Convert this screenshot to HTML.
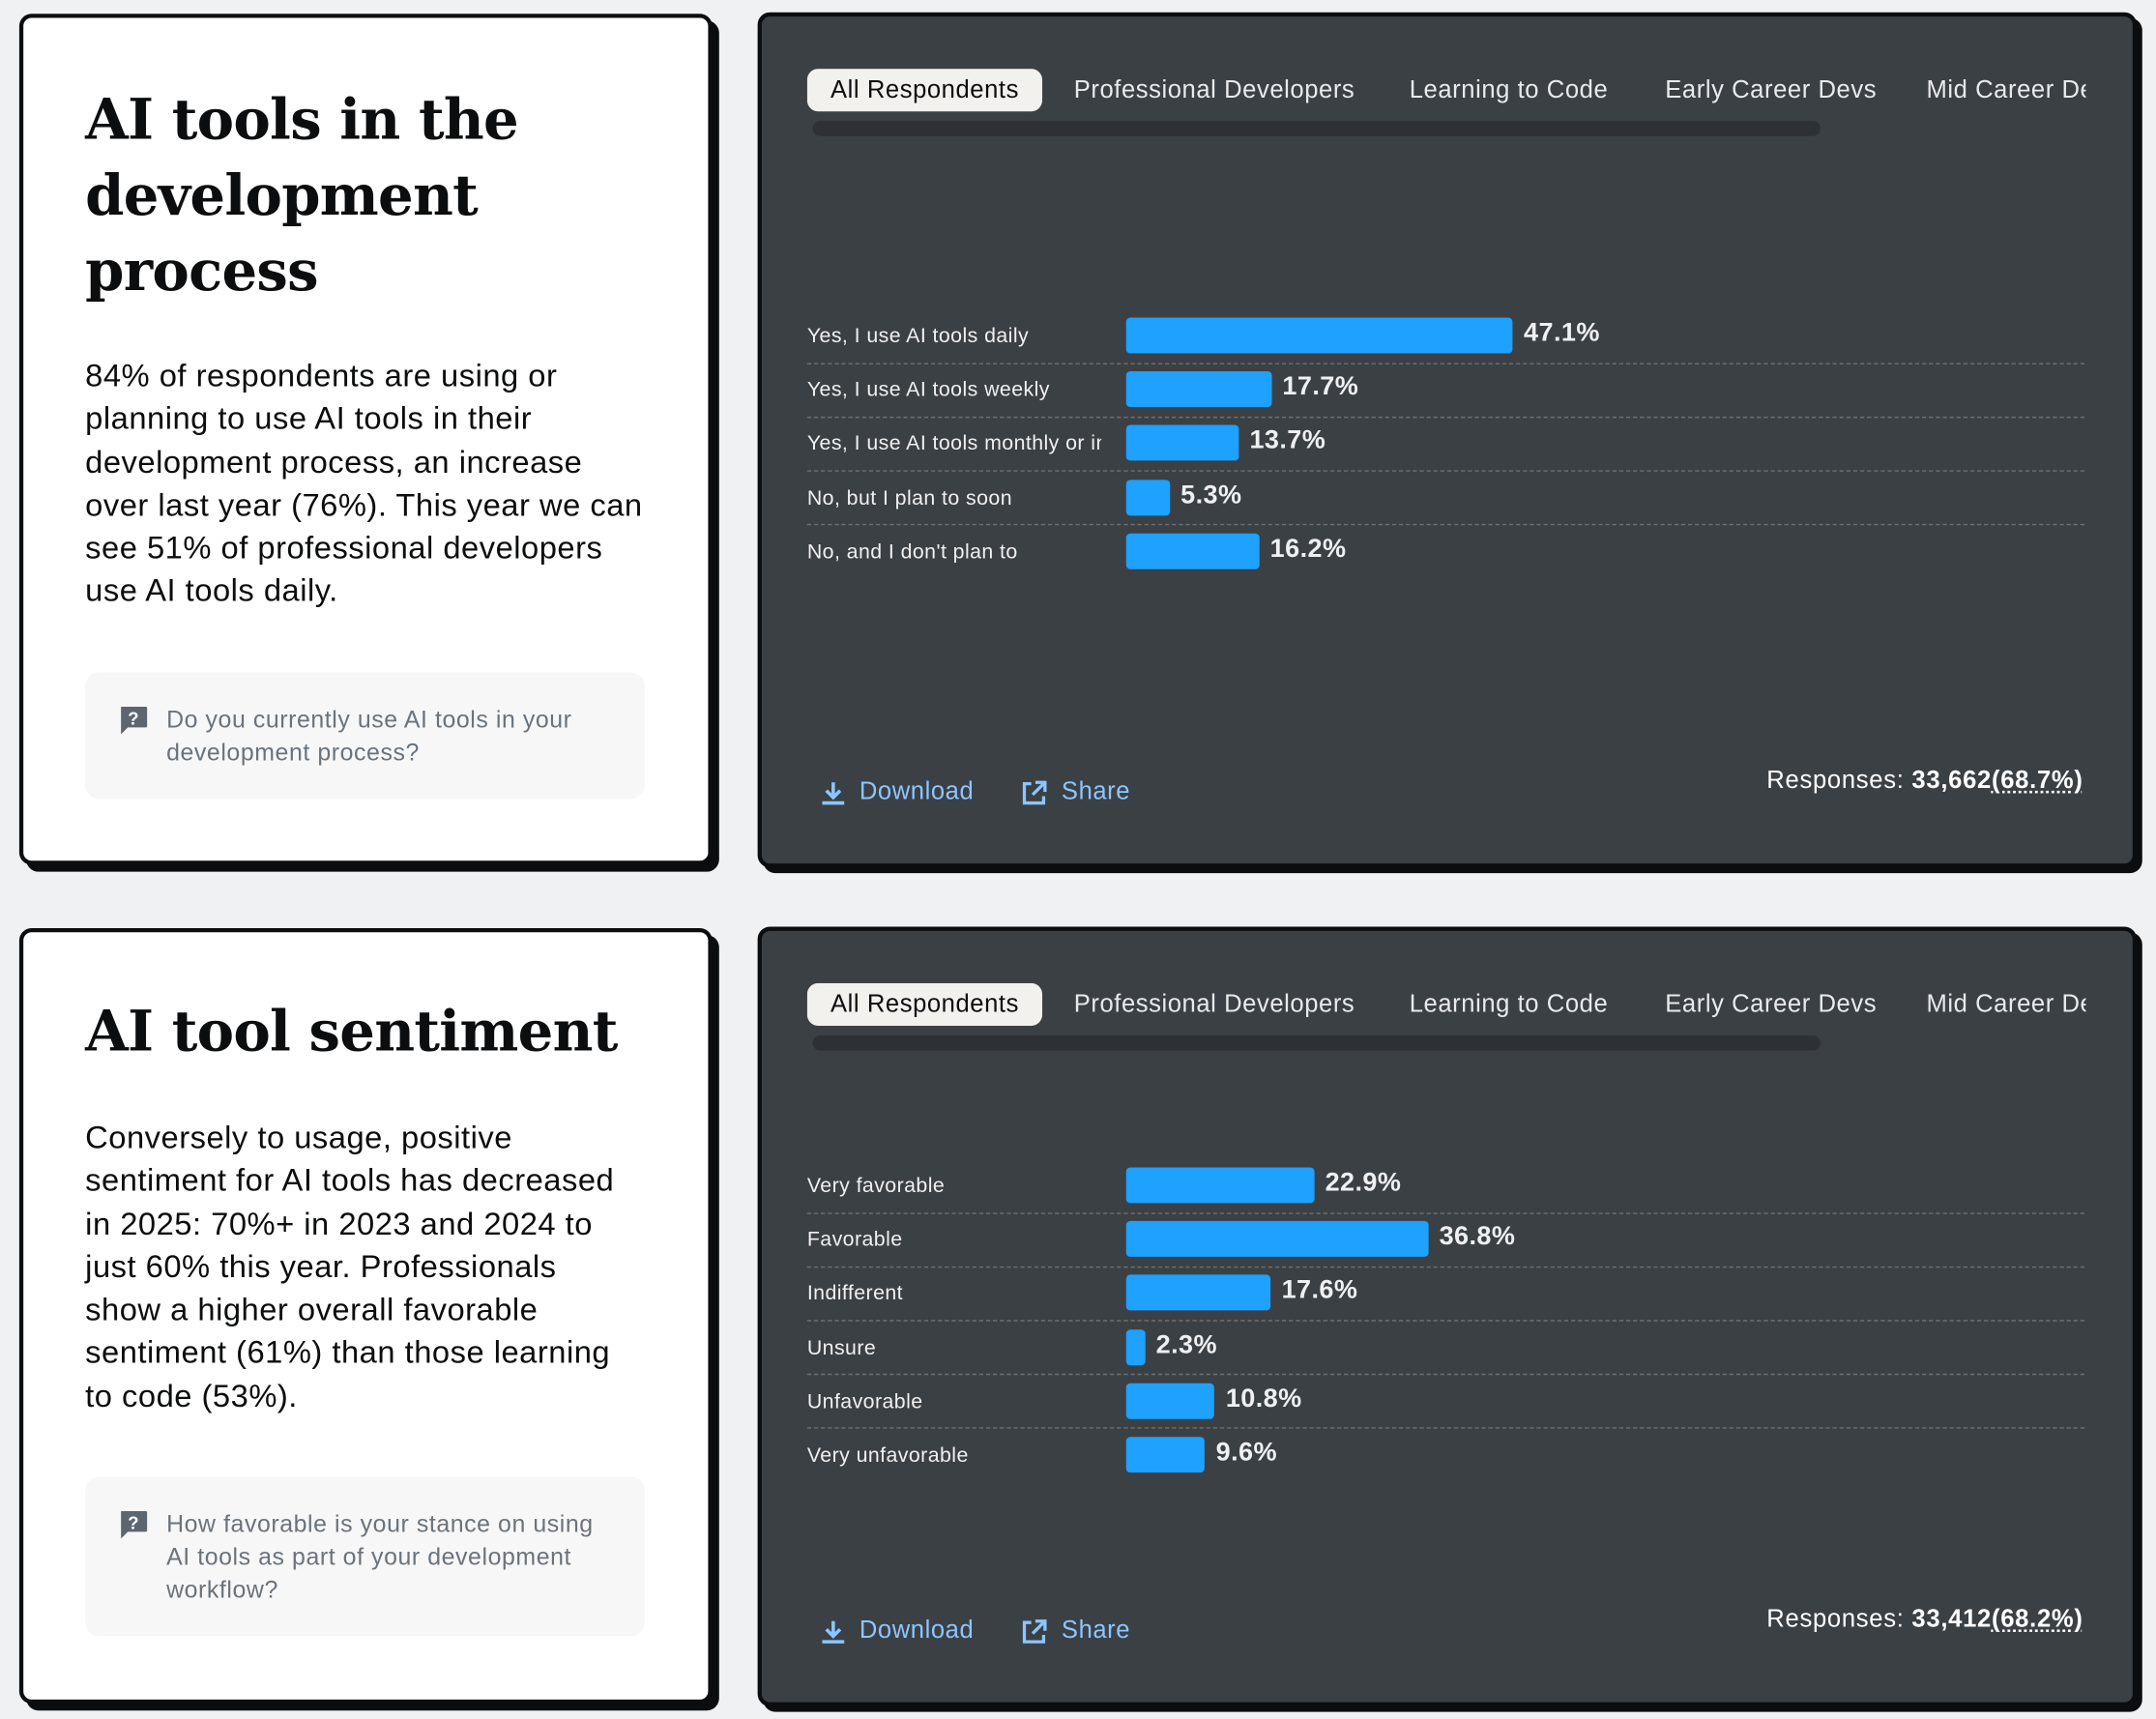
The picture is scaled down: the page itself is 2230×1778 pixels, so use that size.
<!DOCTYPE html>
<html><head><meta charset="utf-8">
<style>
html,body{margin:0;padding:0;background:#f0f1f3;width:2230px;height:1778px;overflow:hidden}
#wrap{position:absolute;left:0;top:0;width:1568px;height:1250px;transform:scale(1.42219);transform-origin:0 0;font-family:"Liberation Sans","DejaVu Sans",sans-serif}
.abs{position:absolute}
.lcard{position:absolute;background:#fff;border:3px solid #0c0d0e;border-radius:9px;box-shadow:5px 5px 0 #0c0d0e;box-sizing:border-box}
.dcard{position:absolute;background:#3b4045;border:3px solid #0c0d0e;border-radius:9px;box-shadow:4px 4px 0 #0c0d0e;box-sizing:border-box;overflow:hidden}
.title{position:absolute;left:45px;font-family:"DejaVu Serif","Liberation Serif",serif;font-weight:bold;font-size:40.5px;line-height:55px;color:#0c0d0e;letter-spacing:-0.5px}
.para{position:absolute;left:45px;width:440px;font-size:23px;line-height:31.3px;color:#0c0d0e;letter-spacing:0.35px;white-space:nowrap}
.qbox{position:absolute;left:45px;width:407px;background:#f7f7f8;border-radius:10px}
.qtext{position:absolute;left:59px;top:22px;width:330px;font-size:17.5px;line-height:24px;color:#6a737c;letter-spacing:0.4px}
.qicon{position:absolute;left:24px;top:24px}
.tab{position:absolute;top:0;font-size:18px;line-height:31px;color:#e8eaec;white-space:nowrap;letter-spacing:0.4px}
.tab.sel{background:#f3f1ee;color:#0c0d0e;border-radius:8px;padding:0 17px}
.tabs{position:absolute;left:33px;width:930px;height:34px;overflow:hidden}
.track{position:absolute;left:37px;width:733px;height:11px;background:#2d3135;border-radius:6px}
.lbl{position:absolute;font-size:15px;color:#f0f0f0;white-space:nowrap;overflow:hidden;width:214px;letter-spacing:0.3px}
.bar{position:absolute;background:#1ea1ff;border-radius:3px}
.val{position:absolute;font-size:19px;font-weight:bold;color:#eef0f2;letter-spacing:0.3px}
.sep{position:absolute;left:33px;width:929px;border-top:1px dashed #6b7076}
.act{position:absolute;font-size:18px;color:#8dc6ff;letter-spacing:0.4px}
.resp{position:absolute;right:36px;font-size:18px;color:#fff;letter-spacing:0.5px}
.resp u{text-decoration:underline dotted;text-underline-offset:3px}
</style></head>
<body>
<div id="wrap">

<div class="lcard" style="left:14px;top:10px;width:504px;height:619px">
  <div class="title" style="top:47px">AI tools in the<br>development<br>process</div>
  <div class="para" style="top:245px">84% of respondents are using or<br>planning to use AI tools in their<br>development process, an increase<br>over last year (76%). This year we can<br>see 51% of professional developers<br>use AI tools daily.</div>
  <div class="qbox" style="top:476px;height:92px">
    <svg class="qicon" width="22" height="22" viewBox="0 0 22 22"><path d="M2 1h18a1 1 0 0 1 1 1v13a1 1 0 0 1-1 1H7l-5 5z" fill="#5d666f"/><text x="11" y="14" font-size="13" font-weight="bold" fill="#fff" text-anchor="middle" font-family="Liberation Sans">?</text></svg>
    <div class="qtext">Do you currently use AI tools in your development process?</div>
  </div>
</div>

<div class="dcard" style="left:551px;top:9px;width:1003px;height:622px">
  <div class="tabs" style="top:38px">
    <div class="tab sel" style="left:0">All Respondents</div>
    <div class="tab" style="left:194px">Professional Developers</div>
    <div class="tab" style="left:438px">Learning to Code</div>
    <div class="tab" style="left:624px">Early Career Devs</div>
    <div class="tab" style="left:814px">Mid Career Devs</div>
  </div>
  <div class="track" style="top:76px"></div>
  <div id="chart1" class="abs" style="left:0;top:0"></div>
  <svg class="abs" style="left:42px;top:555px" width="20" height="20" viewBox="0 0 20 20"><path d="M10 2v10M5 8l5 5 5-5M2 17h16" stroke="#8dc6ff" stroke-width="2.5" fill="none"/></svg>
  <div class="act" style="left:71px;top:553px">Download</div>
  <svg class="abs" style="left:188px;top:555px" width="20" height="20" viewBox="0 0 20 20"><path d="M8 3H3v14h14v-5M11 2h7v7M18 2l-9 9" stroke="#8dc6ff" stroke-width="2.3" fill="none"/></svg>
  <div class="act" style="left:218px;top:553px">Share</div>
  <div class="resp" style="top:545px">Responses: <b>33,662</b><b><u>(68.7%)</u></b></div>
</div>

<div class="lcard" style="left:14px;top:675px;width:504px;height:564px">
  <div class="title" style="top:45px">AI tool sentiment</div>
  <div class="para" style="top:134px">Conversely to usage, positive<br>sentiment for AI tools has decreased<br>in 2025: 70%+ in 2023 and 2024 to<br>just 60% this year. Professionals<br>show a higher overall favorable<br>sentiment (61%) than those learning<br>to code (53%).</div>
  <div class="qbox" style="top:396px;height:116px">
    <svg class="qicon" width="22" height="22" viewBox="0 0 22 22"><path d="M2 1h18a1 1 0 0 1 1 1v13a1 1 0 0 1-1 1H7l-5 5z" fill="#5d666f"/><text x="11" y="14" font-size="13" font-weight="bold" fill="#fff" text-anchor="middle" font-family="Liberation Sans">?</text></svg>
    <div class="qtext">How favorable is your stance on using AI tools as part of your development workflow?</div>
  </div>
</div>

<div class="dcard" style="left:551px;top:674px;width:1003px;height:567px">
  <div class="tabs" style="top:38px">
    <div class="tab sel" style="left:0">All Respondents</div>
    <div class="tab" style="left:194px">Professional Developers</div>
    <div class="tab" style="left:438px">Learning to Code</div>
    <div class="tab" style="left:624px">Early Career Devs</div>
    <div class="tab" style="left:814px">Mid Career Devs</div>
  </div>
  <div class="track" style="top:76px"></div>
  <div id="chart2" class="abs" style="left:0;top:0"></div>
  <svg class="abs" style="left:42px;top:500px" width="20" height="20" viewBox="0 0 20 20"><path d="M10 2v10M5 8l5 5 5-5M2 17h16" stroke="#8dc6ff" stroke-width="2.5" fill="none"/></svg>
  <div class="act" style="left:71px;top:498px">Download</div>
  <svg class="abs" style="left:188px;top:500px" width="20" height="20" viewBox="0 0 20 20"><path d="M8 3H3v14h14v-5M11 2h7v7M18 2l-9 9" stroke="#8dc6ff" stroke-width="2.3" fill="none"/></svg>
  <div class="act" style="left:218px;top:498px">Share</div>
  <div class="resp" style="top:490px">Responses: <b>33,412</b><b><u>(68.2%)</u></b></div>
</div>

</div>
<script>
const usageCategories = ["Yes, I use AI tools daily","Yes, I use AI tools weekly","Yes, I use AI tools monthly or infrequently","No, but I plan to soon","No, and I don't plan to"];
const usageValues = [47.1,17.7,13.7,5.3,16.2];
const sentimentCategories = ["Very favorable","Favorable","Indifferent","Unsure","Unfavorable","Very unfavorable"];
const sentimentValues = [22.9,36.8,17.6,2.3,10.8,9.6];

function drawChart(containerId, cats, vals, firstCenter){
  const el = document.getElementById(containerId);
  const x0 = 265, pxPer = 5.97, rowH = 39.2, barH = 26;
  const xScale = v => v * pxPer;
  const yScale = i => firstCenter + i * rowH;
  cats.forEach((c, i) => {
    const cy = yScale(i);
    const l = document.createElement('div');
    l.className = 'lbl';
    l.style.left = '33px'; l.style.top = (cy - 8) + 'px';
    l.textContent = c;
    
    
    el.appendChild(l);
    const b = document.createElement('div');
    b.className = 'bar';
    b.style.left = x0 + 'px'; b.style.top = (cy - barH/2) + 'px';
    b.style.width = xScale(vals[i]) + 'px'; b.style.height = barH + 'px';
    
    
    el.appendChild(b);
    const v = document.createElement('div');
    v.className = 'val';
    v.style.left = (x0 + xScale(vals[i]) + 8) + 'px'; v.style.top = (cy - 12) + 'px';
    v.textContent = vals[i].toFixed(1) + '%';
    
    
    el.appendChild(v);
    if (i < cats.length - 1) {
      const s = document.createElement('div');
      s.className = 'sep';
      s.style.top = (cy + rowH/2) + 'px';
      
      
      el.appendChild(s);
    }
  });
}
drawChart('chart1', usageCategories, usageValues, 232);
drawChart('chart2', sentimentCategories, sentimentValues, 185);
</script>
</body></html>
